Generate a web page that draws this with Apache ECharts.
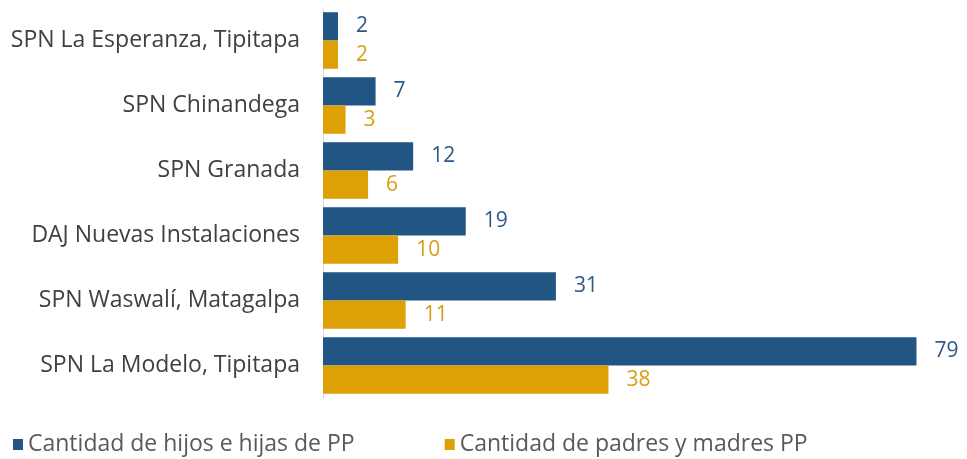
<!DOCTYPE html>
<html>
<head>
<meta charset="utf-8">
<script src="https://cdn.jsdelivr.net/npm/echarts@6/dist/echarts.min.js"></script>
<style>
html, body { margin: 0; padding: 0; background: #fff; }
#main { width: 967px; height: 459px; }
</style>
</head>
<body>
<div id="main"></div>
<script>
// categories, top to bottom as in the picture
var categories = [
    'SPN La Esperanza, Tipitapa',
    'SPN Chinandega',
    'SPN Granada',
    'DAJ Nuevas Instalaciones',
    'SPN Waswalí, Matagalpa',
    'SPN La Modelo, Tipitapa'
];
var hijosName = 'Cantidad de hijos e hijas de PP';
var padresName = 'Cantidad de padres y madres PP';
var hijos = [2, 7, 12, 19, 31, 79];
var padres = [2, 3, 6, 10, 11, 38];

var font = '"Open Sans", "Noto Sans", sans-serif';

var myChart = echarts.init(document.getElementById('main'));
var option = {
    animation: false,
    backgroundColor: '#ffffff',
    grid: {
        left: 323,
        right: 43,
        top: 8,
        bottom: 61
    },
    //图例
    legend: {
        top: 428,
        left: 8,
        itemWidth: 10,
        itemHeight: 11,
        itemGap: 90,
        icon: 'rect',
        textStyle: { fontFamily: font, fontSize: 23, color: '#595959' },
        data: [hijosName, padresName]
    },
    xAxis: {
        type: 'value',
        min: 0,
        max: 80,
        show: false
    },
    yAxis: {
        type: 'category',
        inverse: true,
        data: categories,
        axisLine: { show: true, lineStyle: { color: '#d9d9d9', width: 1 } },
        axisTick: { show: false },
        axisLabel: { fontFamily: font, fontSize: 23, color: '#404040', margin: 23 }
    },
    series: [
        {
            name: hijosName,
            type: 'bar',
            data: hijos,
            barCategoryGap: '13%',
            barGap: '0%',
            itemStyle: { color: '#215584' },
            label: {
                show: true, position: 'right', distance: 18,
                fontFamily: font, fontSize: 21, color: '#2c5a88'
            }
        },
        {
            name: padresName,
            type: 'bar',
            data: padres,
            barCategoryGap: '13%',
            barGap: '0%',
            itemStyle: { color: '#dda105' },
            label: {
                show: true, position: 'right', distance: 18,
                fontFamily: font, fontSize: 21, color: '#d69e14'
            }
        }
    ]
};
myChart.setOption(option);
</script>
</body>
</html>
